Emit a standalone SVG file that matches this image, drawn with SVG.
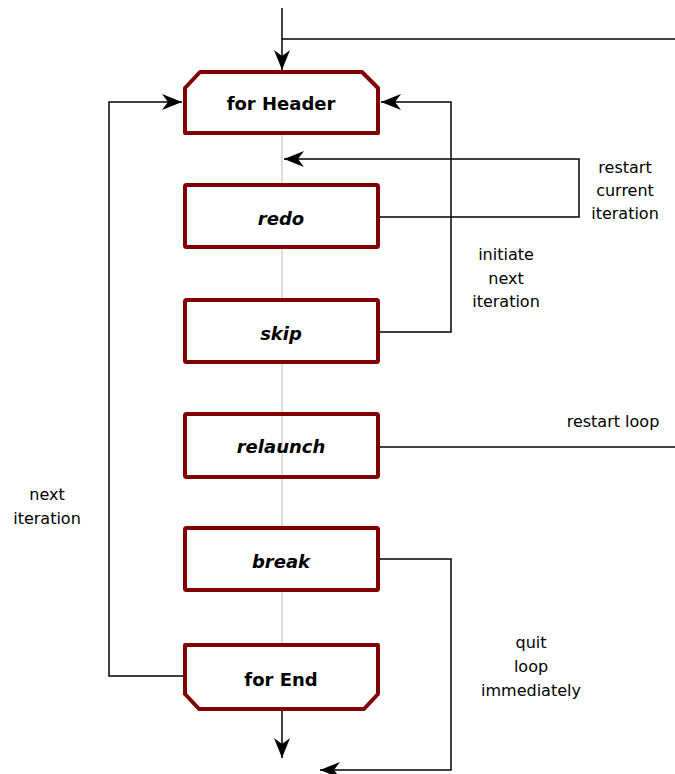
<svg xmlns="http://www.w3.org/2000/svg" width="675" height="774" viewBox="0 0 675 774">
<style>
.box{fill:#fff;stroke:#800000;stroke-width:4;stroke-linejoin:round}
.lbl{font-family:"DejaVu Sans",sans-serif;font-size:18px;font-weight:bold;font-style:italic;text-anchor:middle;fill:#000}
.hdr{font-family:"DejaVu Sans",sans-serif;font-size:18px;font-weight:bold;text-anchor:middle;fill:#000}
.txt{font-family:"DejaVu Sans",sans-serif;font-size:16px;text-anchor:middle;fill:#000}
.wire{fill:none;stroke:#000;stroke-width:1.5}
.axis{fill:none;stroke:#bbb;stroke-width:1}
</style>
<defs>
<marker id="arr" markerUnits="userSpaceOnUse" markerWidth="24" markerHeight="20" viewBox="-22 -10 24 20" refX="0" refY="0" orient="auto">
<path d="M0,0 L-20,-8 L-14,0 L-20,8 Z" fill="#000"/>
</marker>
</defs>
<rect width="675" height="774" fill="#fff"/>
<g id="connectors">
<path class="axis" d="M282,135 V183 M282,249 V298 M282,364 V528 M282,592 V643"/>
<path class="wire" d="M282,8 V70" marker-end="url(#arr)"/>
<path class="wire" d="M675,39 H282"/>
<path class="wire" d="M380,217 H579 V159 H284" marker-end="url(#arr)"/>
<path class="wire" d="M380,332 H451 V102 H381" marker-end="url(#arr)"/>
<path class="wire" d="M380,447 H675"/>
<path class="wire" d="M183,676 H109 V102 H182" marker-end="url(#arr)"/>
<path class="wire" d="M380,559 H451 V770 H320" marker-end="url(#arr)"/>
<path class="wire" d="M282,711 V758" marker-end="url(#arr)"/>
</g>
<g id="header">
<path class="box" d="M200,72 H362 L378,88 V133 H185 V88 Z"/>
<text class="hdr" x="281" y="110">for Header</text>
</g>
<g id="redo">
<rect class="box" x="185" y="185" width="193" height="62" rx="1.5"/>
<text class="lbl" x="281" y="225">redo</text>
</g>
<g id="skip">
<rect class="box" x="185" y="300" width="193" height="62" rx="1.5"/>
<text class="lbl" x="281" y="340">skip</text>
</g>
<g id="relaunch">
<rect class="box" x="185" y="414" width="193" height="63" rx="1.5" style="fill:none"/>
<text class="lbl" x="281" y="453">relaunch</text>
</g>
<g id="break">
<rect class="box" x="185" y="528" width="193" height="62" rx="1.5"/>
<text class="lbl" x="281" y="568">break</text>
</g>
<g id="forEnd">
<path class="box" d="M185,645 H378 V694 L364,709 H199 L185,694 Z"/>
<text class="hdr" x="281" y="686">for End</text>
</g>
<g id="labels">
<text class="txt" x="625" y="173">restart</text>
<text class="txt" x="625" y="196">current</text>
<text class="txt" x="625" y="219">iteration</text>
<text class="txt" x="506" y="260">initiate</text>
<text class="txt" x="506" y="284">next</text>
<text class="txt" x="506" y="307">iteration</text>
<text class="txt" x="613" y="427">restart loop</text>
<text class="txt" x="47" y="500">next</text>
<text class="txt" x="47" y="524">iteration</text>
<text class="txt" x="531" y="648">quit</text>
<text class="txt" x="531" y="672">loop</text>
<text class="txt" x="531" y="696">immediately</text>
</g>
</svg>
